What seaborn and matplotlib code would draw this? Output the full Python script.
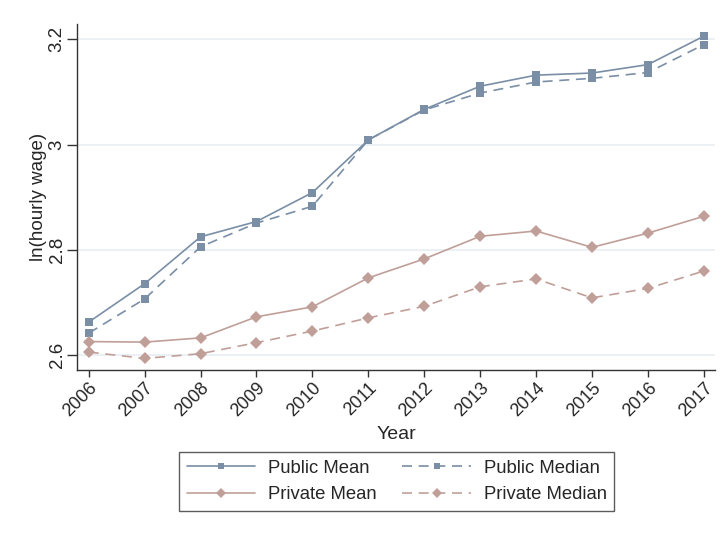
import matplotlib
matplotlib.use("Agg")
import matplotlib.pyplot as plt
import seaborn as sns
import pandas as pd

years = list(range(2006, 2018))
public_mean = [2.663, 2.736, 2.825, 2.854, 2.909, 3.009, 3.067, 3.111, 3.132, 3.136, 3.152, 3.206]
public_median = [2.642, 2.707, 2.806, 2.851, 2.883, 3.009, 3.066, 3.098, 3.119, 3.126, 3.137, 3.190]
private_mean = [2.626, 2.625, 2.633, 2.673, 2.692, 2.747, 2.783, 2.826, 2.836, 2.805, 2.832, 2.864]
private_median = [2.606, 2.594, 2.603, 2.624, 2.646, 2.671, 2.693, 2.730, 2.745, 2.709, 2.727, 2.760]
series_names = ["Public Mean", "Public Median", "Private Mean", "Private Median"]
y_ticks = [2.6, 2.8, 3.0, 3.2]
y_tick_labels = ["2.6", "2.8", "3", "3.2"]

frames = []
for name, vals in zip(series_names, [public_mean, public_median, private_mean, private_median]):
    frames.append(pd.DataFrame({"Year": years, "value": vals, "series": name}))
df = pd.concat(frames, ignore_index=True)

sns.set_theme(style="white")
plt.rcParams["font.family"] = ["Liberation Sans", "DejaVu Sans"]

blue = "#7a8ea6"
rose = "#c09f99"
palette = {"Public Mean": blue, "Public Median": blue,
           "Private Mean": rose, "Private Median": rose}
dashes = {"Public Mean": "", "Public Median": (6, 4),
          "Private Mean": "", "Private Median": (6, 4)}
markers = {"Public Mean": "s", "Public Median": "s",
           "Private Mean": "D", "Private Median": "D"}

fig = plt.figure(figsize=(7.24, 5.35), dpi=100)
ax = fig.add_axes([0.1068, 0.3084, 0.8808, 0.6466])

sns.lineplot(data=df, x="Year", y="value", hue="series", style="series",
             hue_order=series_names, style_order=series_names,
             palette=palette, dashes=dashes, markers=markers,
             markersize=5.5, markeredgewidth=0, linewidth=1.2, ax=ax, legend="full")

# diamonds read smaller than squares at equal size; enlarge them a little
for line in ax.lines:
    if line.get_marker() == "D":
        line.set_markersize(6.5)

ax.set_xlim(2005.796, 2017.2)
ax.set_ylim(2.572, 3.229)
ax.set_xticks(years)
ax.set_xticklabels([str(y) for y in years], rotation=45, ha="right",
                   rotation_mode="anchor", fontsize=13)
ax.set_yticks(y_ticks)
ax.set_yticklabels(y_tick_labels, rotation=90, va="center", fontsize=13.5)
ax.set_xlabel("Year", fontsize=14, labelpad=4)
ax.set_ylabel("ln(hourly wage)", fontsize=13.5)
ax.yaxis.set_label_coords(-0.047, 0.5)

ax.yaxis.grid(True, color="#e6eef2", linewidth=1.2)
ax.set_axisbelow(True)
for side in ["top", "right"]:
    ax.spines[side].set_visible(False)
for side in ["left", "bottom"]:
    ax.spines[side].set_color("#333333")
    ax.spines[side].set_linewidth(1.0)
ax.tick_params(axis="y", which="major", direction="out", length=7,
               width=1.0, color="#333333", left=True, pad=1.5)
ax.tick_params(axis="x", which="major", direction="out", length=5,
               width=1.0, color="#333333", bottom=True, pad=2)

handles, labels = ax.get_legend_handles_labels()
ax.get_legend().remove()
lookup = dict(zip(labels, handles))
# column-major fill: first column holds the means, second the medians
order = ["Public Mean", "Private Mean", "Public Median", "Private Median"]
leg = fig.legend([lookup[k] for k in order], order, loc="center",
                 bbox_to_anchor=(0.548, 0.1),
                 ncol=2, fontsize=13.3, frameon=True, fancybox=False,
                 handlelength=3.7, columnspacing=1.4, handletextpad=0.7,
                 borderpad=0.4, labelspacing=0.5)
leg.get_frame().set_edgecolor("#333333")
leg.get_frame().set_linewidth(1.0)
for h in leg.legend_handles:
    h.set_markersize(5.5 if h.get_marker() == "D" else 5)

fig.savefig("out.png", dpi=100, facecolor="white")
